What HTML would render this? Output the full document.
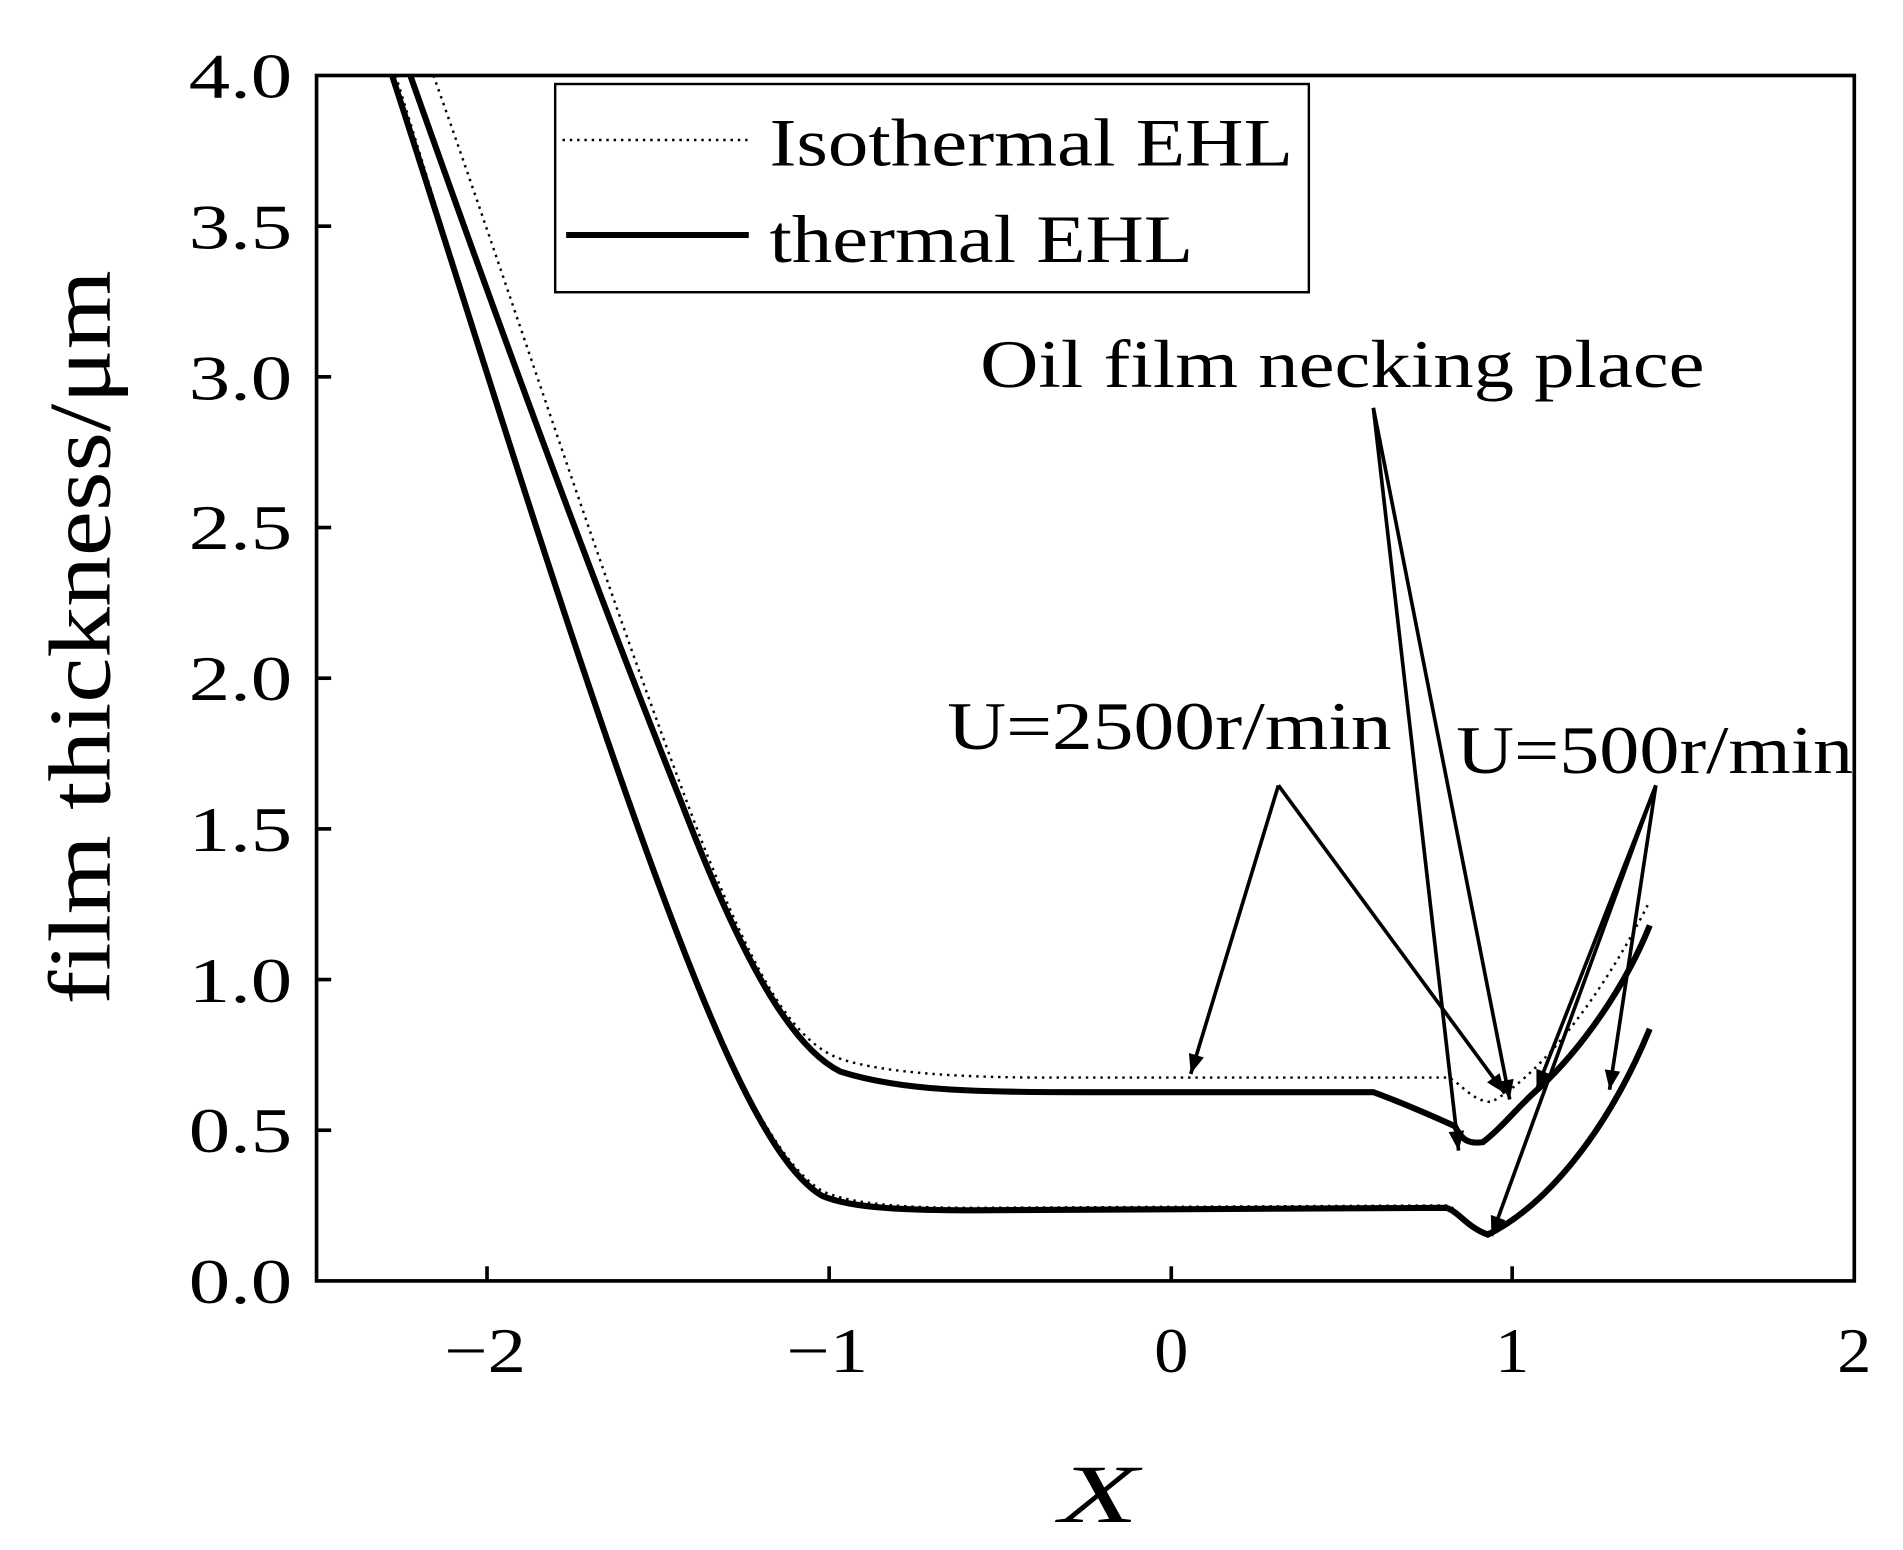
<!DOCTYPE html>
<html><head><style>html,body{margin:0;padding:0;background:#fff}svg{display:block}</style></head>
<body>
<svg width="1903" height="1550" viewBox="0 0 1563 1273" preserveAspectRatio="none" xmlns="http://www.w3.org/2000/svg" font-family="Liberation Serif, serif">
<rect width="1563" height="1273" fill="#fff"/>
<g fill="none" stroke="#000">
<path d="M356,62 C416,230 496,480 576,690 C616,790 646,850 686,868 C716,880 780,885 860,885 L1190,885 C1200,890 1210,905 1225,905 C1270,880 1320,810 1355,740" stroke-width="2" stroke-dasharray="2,4"/>
<path d="M337,62 C400,240 480,460 560,660 C610,790 650,860 690,880 C740,896 800,897 900,897 L1128,897 C1150,905 1180,918 1195,925 C1200,935 1205,940 1218,938 C1235,925 1250,905 1265,893 C1300,860 1335,810 1355,760" stroke-width="5"/>
<path d="M325,62 C380,240 440,440 510,640 C580,840 630,950 675,978 C700,990 750,992 800,992 L1190,990 C1198,995 1205,1008 1222,1012 C1270,990 1320,930 1355,845" stroke-width="2" stroke-dasharray="2,4"/>
<path d="M322,62 C380,240 440,440 510,640 C580,840 630,955 675,982 C700,993 750,994 800,994 L1188,992 C1198,995 1205,1008 1222,1014 C1270,990 1320,930 1355,845" stroke-width="5"/>
</g>
<rect x="260" y="62" width="1263" height="990" fill="none" stroke="#000" stroke-width="3"/>
<g stroke="#000" stroke-width="3">
<line x1="400" y1="1052" x2="400" y2="1040"/><line x1="681" y1="1052" x2="681" y2="1040"/><line x1="962" y1="1052" x2="962" y2="1040"/><line x1="1242" y1="1052" x2="1242" y2="1040"/>
<line x1="260" y1="185.75" x2="272" y2="185.75"/><line x1="260" y1="309.5" x2="272" y2="309.5"/><line x1="260" y1="433.25" x2="272" y2="433.25"/><line x1="260" y1="557" x2="272" y2="557"/><line x1="260" y1="680.75" x2="272" y2="680.75"/><line x1="260" y1="804.5" x2="272" y2="804.5"/><line x1="260" y1="928.25" x2="272" y2="928.25"/>
</g>
<g font-size="52">
<text x="155" y="80" textLength="85" lengthAdjust="spacingAndGlyphs">4.0</text>
<text x="155" y="204" textLength="85" lengthAdjust="spacingAndGlyphs">3.5</text>
<text x="155" y="328" textLength="85" lengthAdjust="spacingAndGlyphs">3.0</text>
<text x="155" y="451" textLength="85" lengthAdjust="spacingAndGlyphs">2.5</text>
<text x="155" y="575" textLength="85" lengthAdjust="spacingAndGlyphs">2.0</text>
<text x="155" y="699" textLength="85" lengthAdjust="spacingAndGlyphs">1.5</text>
<text x="155" y="823" textLength="85" lengthAdjust="spacingAndGlyphs">1.0</text>
<text x="155" y="946" textLength="85" lengthAdjust="spacingAndGlyphs">0.5</text>
<text x="155" y="1070" textLength="85" lengthAdjust="spacingAndGlyphs">0.0</text>
<text x="365" y="1127" textLength="67" lengthAdjust="spacingAndGlyphs">−2</text>
<text x="646" y="1127" textLength="67" lengthAdjust="spacingAndGlyphs">−1</text>
<text x="948" y="1127" textLength="28" lengthAdjust="spacingAndGlyphs">0</text>
<text x="1228" y="1127" textLength="28" lengthAdjust="spacingAndGlyphs">1</text>
<text x="1509" y="1127" textLength="28" lengthAdjust="spacingAndGlyphs">2</text>
</g>
<text x="870" y="1250" font-size="68" font-style="italic" textLength="65" lengthAdjust="spacingAndGlyphs">X</text>
<text transform="translate(90,825) rotate(-90)" font-size="72" textLength="603" lengthAdjust="spacingAndGlyphs">film thickness/μm</text>
<rect x="456" y="69" width="619" height="171" fill="#fff" stroke="#000" stroke-width="2"/>
<line x1="462" y1="115" x2="615" y2="115" stroke="#000" stroke-width="2" stroke-dasharray="2,4"/>
<line x1="465" y1="193" x2="615" y2="193" stroke="#000" stroke-width="5"/>
<g font-size="56">
<text x="632" y="136" textLength="430" lengthAdjust="spacingAndGlyphs">Isothermal EHL</text>
<text x="632" y="215" textLength="348" lengthAdjust="spacingAndGlyphs">thermal EHL</text>
<text x="805" y="318" textLength="595" lengthAdjust="spacingAndGlyphs">Oil film necking place</text>
<text x="778" y="615" textLength="365" lengthAdjust="spacingAndGlyphs">U=2500r/min</text>
<text x="1196" y="635" textLength="326" lengthAdjust="spacingAndGlyphs">U=500r/min</text>
</g>
<defs><marker id="b" viewBox="0 0 10 10" refX="10" refY="5" markerWidth="24" markerHeight="16" orient="auto" markerUnits="userSpaceOnUse"><path d="M0,1 L10,5 L0,9z"/></marker></defs>
<g stroke="#000" stroke-width="3" marker-end="url(#b)">
<line x1="1128" y1="335" x2="1198" y2="945"/>
<line x1="1128" y1="335" x2="1240" y2="903"/>
<line x1="1050" y1="645" x2="978" y2="882"/>
<line x1="1050" y1="645" x2="1236" y2="898"/>
<line x1="1360" y1="645" x2="1225" y2="1015"/>
<line x1="1360" y1="645" x2="1262" y2="895"/>
<line x1="1360" y1="645" x2="1322" y2="895"/>
</g>
</svg>
</body></html>
